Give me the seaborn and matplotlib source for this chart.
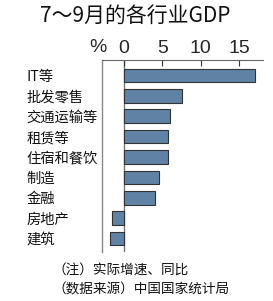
import matplotlib
matplotlib.use("Agg")
import matplotlib.pyplot as plt
import seaborn as sns
import pandas as pd
from matplotlib import font_manager

categories = ["IT等", "批发零售", "交通运输等", "租赁等", "住宿和餐饮", "制造", "金融", "房地产", "建筑"]
values = [17.1, 7.6, 6.0, 5.8, 5.7, 4.6, 4.0, -1.6, -1.8]
xticks = [0, 5, 10, 15]
title = "7～9月的各行业GDP"
notes = ["（注）实际增速、同比", "（数据来源）中国国家统计局"]

sns.set_theme(style="white")
plt.rcParams['font.family'] = ['Noto Sans CJK SC', 'DejaVu Sans']

names = {f.name for f in font_manager.fontManager.ttflist}
narrow = 'Liberation Sans Narrow' if 'Liberation Sans Narrow' in names else 'Liberation Sans'

df = pd.DataFrame({"cat": categories, "val": values})

fig = plt.figure(figsize=(2.73, 3.01), dpi=100)
ax = fig.add_axes([0.3725, 0.164, 0.5905, 0.637])
sns.barplot(data=df, x="val", y="cat", orient="h", color="#5f82a5",
            edgecolor="#333333", linewidth=0.8, width=0.67, saturation=1, ax=ax)
ax.set_xlim(-2.9, 18.1)
ax.set_ylim(8.64, -0.76)
ax.axvline(0, color="#777777", lw=1.0, zorder=0.5)
ax.set_xlabel("")
ax.set_ylabel("")
ax.xaxis.tick_top()
ax.set_xticks(xticks)
ax.set_xticklabels([str(t) for t in xticks], fontsize=14, family=[narrow, 'DejaVu Sans'])
ax.tick_params(axis='x', direction='in', length=4, width=0.8, color="#333333", pad=2, top=True, bottom=False)
ax.tick_params(axis='y', length=0, pad=54)
ax.set_yticklabels(categories, fontsize=10.3, ha='left', color="#111111")
for s in ["right", "bottom"]:
    ax.spines[s].set_visible(False)
ax.spines["top"].set_color("#666666")
ax.spines["left"].set_color("#888888")
ax.spines["top"].set_linewidth(0.8)
ax.spines["left"].set_linewidth(1.0)

fig.text(98/273, 1 - 48/301, "%", fontsize=14, ha="center", va="center", family=[narrow, 'DejaVu Sans'])
fig.text(135/273, 1 - 16/301, title, fontsize=15, ha="center", va="center", color="#111111")
fig.text(52/273, 1 - 270/301, notes[0], fontsize=9.8, ha="left", va="center", color="#111111")
fig.text(52/273, 1 - 289/301, notes[1], fontsize=9.8, ha="left", va="center", color="#111111")

fig.savefig("out.png", dpi=100)
